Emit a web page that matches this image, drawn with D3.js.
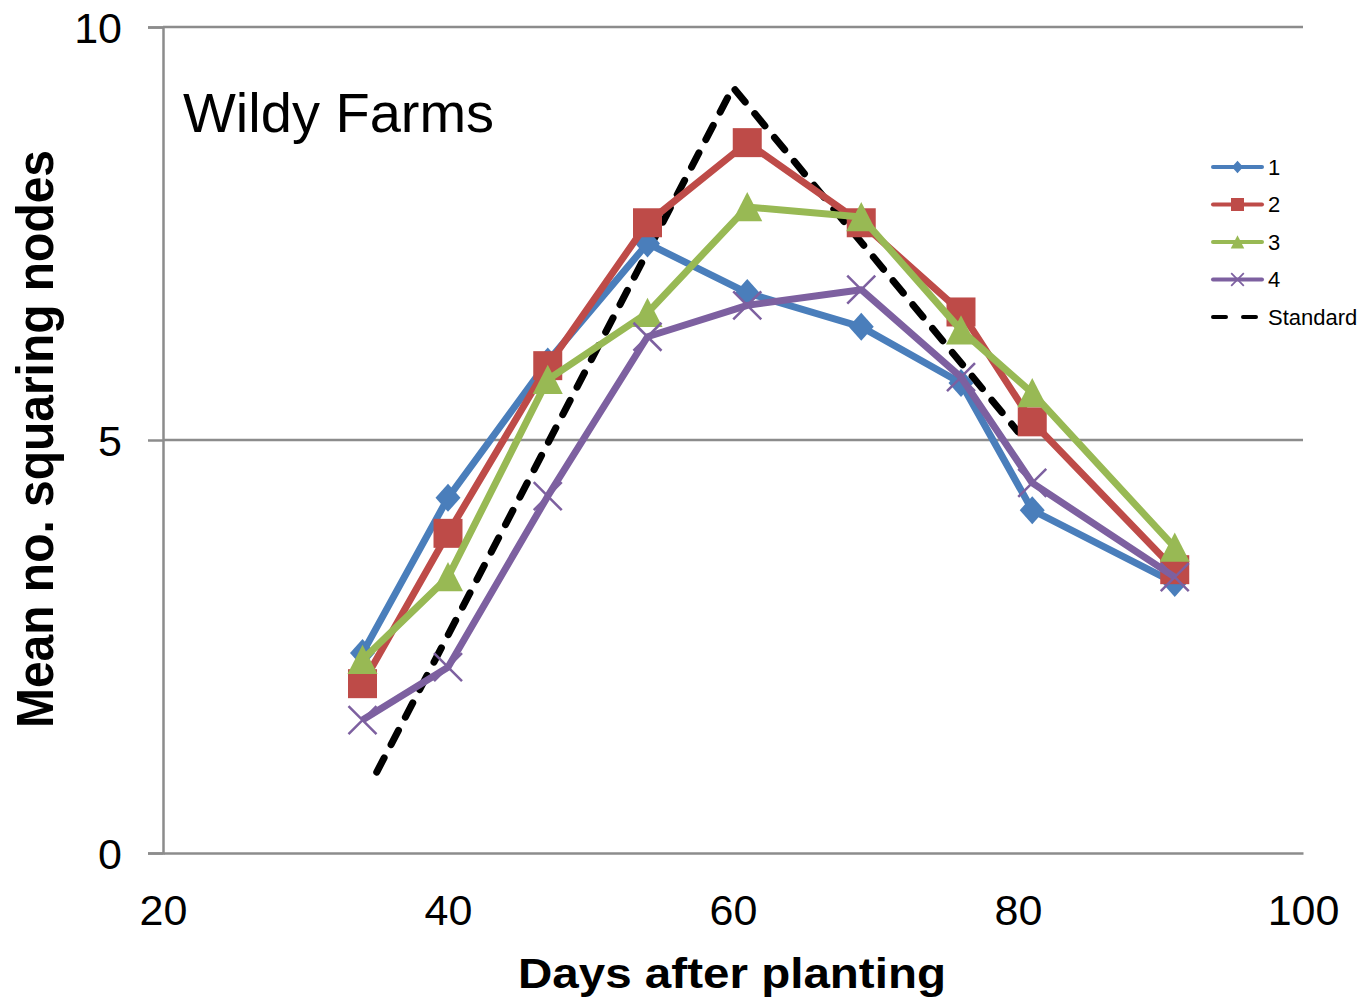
<!DOCTYPE html>
<html>
<head>
<meta charset="utf-8">
<script src="https://cdn.jsdelivr.net/npm/d3@7"></script>
<style>
  body { margin: 0; background: #fff; }
  svg { font-family: "Liberation Sans", Arial, sans-serif; }
</style>
</head>
<body>
<svg id="chart"></svg>
<script>
// data
const days = [34, 40, 47, 54, 61, 69, 76, 81, 91];
const series1 = [2.42, 4.3, 5.95, 7.38, 6.78, 6.37, 5.69, 4.15, 3.27];
const series2 = [2.05, 3.87, 5.9, 7.63, 8.6, 7.63, 6.55, 5.22, 3.43];
const series3 = [2.34, 3.34, 5.73, 6.54, 7.82, 7.7, 6.33, 5.57, 3.7];
const series4 = [1.61, 2.25, 4.32, 6.25, 6.63, 6.82, 5.76, 4.48, 3.34];
const stdDays = [35, 60, 80];
const stdValues = [0.98, 9.27, 5.1];
const xTicks = [20, 40, 60, 80, 100];
const yTicks = [0, 5, 10];
const seriesNames = ["1", "2", "3", "4", "Standard"];

const W = 1362, H = 1000;
const margin = { top: 27, right: 59, bottom: 147, left: 163 };
const width = W - margin.left - margin.right;
const height = H - margin.top - margin.bottom;

const svg = d3.select("#chart").attr("width", W).attr("height", H);
const chart = svg.append("g").attr("transform", `translate(${margin.left},${margin.top})`);

const xScale = d3.scaleLinear().domain([20, 100]).range([0, width]);
const yScale = d3.scaleLinear().domain([0, 10]).range([height, 0]);

const gridColor = "#8c8c8c";

// gridlines
chart.selectAll(".grid")
  .data(yTicks.filter(d => d > 0))
  .join("line")
    .attr("class", "grid")
    .attr("x1", 0).attr("x2", width)
    .attr("y1", d => yScale(d)).attr("y2", d => yScale(d))
    .attr("stroke", gridColor).attr("stroke-width", 2.5);

// y axis
const yAxis = chart.append("g")
  .call(d3.axisLeft(yScale).tickValues(yTicks).tickSize(15).tickPadding(26).tickFormat(d3.format("d")));
yAxis.select(".domain").attr("stroke", gridColor).attr("stroke-width", 2.5);
yAxis.selectAll(".tick line").attr("stroke", gridColor).attr("stroke-width", 2.5);
yAxis.selectAll(".tick text").attr("fill", "#000").style("font-size", "43px").attr("dy", "0.36em");

// x axis
const xAxis = chart.append("g")
  .attr("transform", `translate(0,${height})`)
  .call(d3.axisBottom(xScale).tickValues(xTicks).tickSize(0).tickPadding(41).tickFormat(d3.format("d")));
xAxis.select(".domain").attr("stroke", gridColor).attr("stroke-width", 2.5);
xAxis.selectAll(".tick text").attr("fill", "#000").style("font-size", "43px");

// axis titles (stretched a bit wider like the original)
svg.append("text")
  .attr("x", 518)
  .attr("y", 988)
  .attr("font-weight", "bold")
  .style("font-size", "43px")
  .attr("textLength", 428)
  .attr("lengthAdjust", "spacingAndGlyphs")
  .text("Days after  planting");

svg.append("text")
  .attr("transform", `translate(53,728) rotate(-90)`)
  .attr("font-weight", "bold")
  .style("font-size", "52px")
  .attr("textLength", 578)
  .attr("lengthAdjust", "spacingAndGlyphs")
  .text("Mean no. squaring nodes");

// panel title
chart.append("text")
  .attr("x", 20)
  .attr("y", 105)
  .style("font-size", "56px")
  .text("Wildy Farms");

const colors = ["#4a7ebb", "#be4b48", "#98b954", "#7d60a0", "#000000"];
const allSeries = [series1, series2, series3, series4];

const line = d3.line()
  .x(d => xScale(d[0]))
  .y(d => yScale(d[1]));

// standard dashed line drawn first
chart.append("path")
  .datum(stdDays.map((d, i) => [d, stdValues[i]]))
  .attr("fill", "none")
  .attr("stroke", "#000")
  .attr("stroke-width", 7)
  .attr("stroke-dasharray", "16,15")
  .attr("stroke-linecap", "round")
  .attr("d", line);

function drawMarker(g, idx, x, y, scale) {
  const s = scale || 1;
  let d;
  if (idx == 0) {
    const w = 12.5 * s, h = 14 * s;
    d = `M${x},${y - h}L${x + w},${y}L${x},${y + h}L${x - w},${y}Z`;
  } else if (idx == 1) {
    const r = 14.5 * s;
    d = `M${x - r},${y - r}H${x + r}V${y + r}H${x - r}Z`;
  } else if (idx == 2) {
    const r = 15 * s;
    d = `M${x},${y - r}L${x + r},${y + r * 0.95}L${x - r},${y + r * 0.95}Z`;
  } else {
    const r = 14 * s;
    g.append("path")
      .attr("d", `M${x - r},${y - r}L${x + r},${y + r}M${x - r},${y + r}L${x + r},${y - r}`)
      .attr("stroke", colors[3]).attr("stroke-width", 2.5 * Math.max(s, 0.7)).attr("fill", "none");
    return;
  }
  g.append("path").attr("d", d).attr("fill", colors[idx]);
}

allSeries.forEach((vals, i) => {
  const pts = days.map((d, j) => [d, vals[j]]);
  chart.append("path")
    .datum(pts)
    .attr("fill", "none")
    .attr("stroke", colors[i])
    .attr("stroke-width", 7)
    .attr("stroke-linejoin", "round")
    .attr("d", line);
  const mg = chart.append("g");
  pts.forEach(p => drawMarker(mg, i, xScale(p[0]), yScale(p[1])));
});

// legend
const legend = svg.append("g").attr("transform", "translate(1213,167)");
seriesNames.forEach((name, i) => {
  const y = i * 37.5;
  const row = legend.append("g");
  row.append("line")
    .attr("x1", 0).attr("x2", 49).attr("y1", y).attr("y2", y)
    .attr("stroke", colors[i]).attr("stroke-width", 4)
    .attr("stroke-linecap", "round")
    .attr("stroke-dasharray", i == 4 ? "13,17" : null);
  if (i < 4) drawMarker(row, i, 24.5, y, 0.45);
  row.append("text")
    .attr("x", 55).attr("y", y)
    .attr("dy", "0.36em")
    .style("font-size", "22px")
    .text(name);
});
</script>
</body>
</html>
